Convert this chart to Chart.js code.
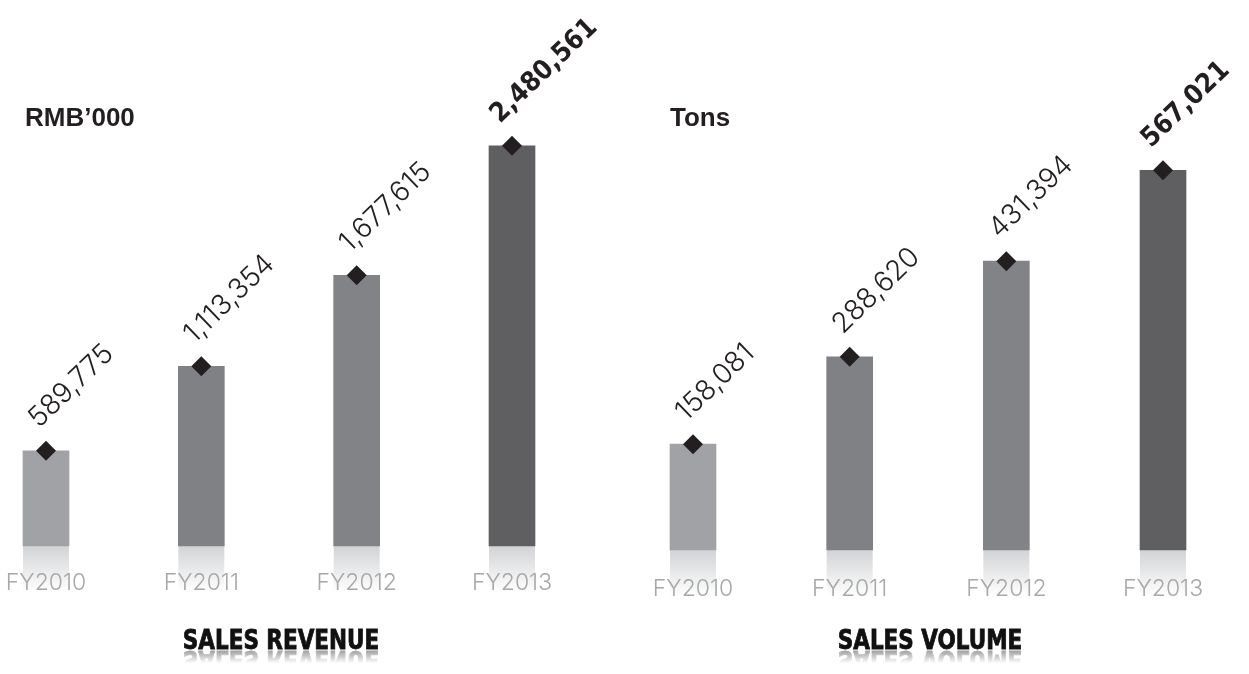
<!DOCTYPE html>
<html>
<head>
<meta charset="utf-8">
<script src="https://cdn.jsdelivr.net/npm/chart.js@4.4.0/dist/chart.umd.min.js"></script>
<style>
  html, body { margin: 0; padding: 0; background: #fff; }
  body { width: 1249px; height: 674px; position: relative; overflow: hidden; }
  canvas { position: absolute; top: 0; }
  .unit {
    position: absolute; top: 104px;
    font-family: 'Liberation Sans', Arial, sans-serif; font-weight: bold;
    font-size: 26px; line-height: 26px; color: #231f20;
  }
  .title {
    position: absolute; top: 629px;
    font-family: 'Liberation Sans Narrow', 'DejaVu Sans Condensed', sans-serif; font-weight: bold;
    font-size: 26px; line-height: 22px; color: #111;
    -webkit-text-stroke: 0.8px #111;
    transform: translateX(-50%) scaleX(0.92);
    -webkit-box-reflect: below -2px linear-gradient(transparent 35%, rgba(0,0,0,0.45));
    white-space: nowrap;
  }
</style>
</head>
<body>
<canvas id="revenueChart" width="624" height="674" style="left:0"></canvas>
<canvas id="volumeChart" width="625" height="674" style="left:624px"></canvas>
<div class="unit" style="left:25px">RMB’000</div>
<div class="unit" style="left:670px">Tons</div>
<div class="title" style="left:281px">SALES REVENUE</div>
<div class="title" style="left:930px">SALES VOLUME</div>
<script>
var years = ['FY2010', 'FY2011', 'FY2012', 'FY2013'];
var revenue = [589775, 1113354, 1677615, 2480561];
var volume = [158081, 288620, 431394, 567021];

var barColors = ['#a1a2a5', '#808184', '#828386', '#5f5f61'];

// grey fading reflection under each bar, drawn before the axis labels
var reflectionPlugin = {
    id: 'reflection',
    beforeDraw: function (chart) {
        var ctx = chart.ctx;
        var meta = chart.getDatasetMeta(0);
        var base = chart.chartArea.bottom;
        meta.data.forEach(function (bar) {
            var g = ctx.createLinearGradient(0, base, 0, base + 46);
            g.addColorStop(0, '#d2d3d5');
            g.addColorStop(1, 'rgba(255,255,255,1)');
            ctx.fillStyle = g;
            ctx.fillRect(bar.x - bar.width / 2, base, bar.width, 46);
        });
    }
};

// rotated value labels above the diamonds
var valueLabelPlugin = {
    id: 'valueLabels',
    afterDatasetsDraw: function (chart) {
        var ctx = chart.ctx;
        var values = chart.data.datasets[1].data;
        var meta = chart.getDatasetMeta(1);
        meta.data.forEach(function (pt, i) {
            var last = i === values.length - 1;
            ctx.save();
            if (last) {
                ctx.translate(pt.x - 12, pt.y - 22);
            } else {
                ctx.translate(pt.x - 7, pt.y - 22);
            }
            ctx.rotate(-44 * Math.PI / 180);
            ctx.fillStyle = '#231f20';
            ctx.textAlign = 'left';
            ctx.textBaseline = 'alphabetic';
            ctx.font = last ? 'bold 27px "Liberation Sans Narrow", "DejaVu Sans Condensed", sans-serif'
                            : '300 28px Inter, sans-serif';
            ctx.fillText(values[i].toLocaleString('en-US'), 0, 0);
            ctx.restore();
        });
    }
};

function makeChart(id, values, yMax, padLeft, padRight, padBottom, tickPad) {
    var ctx = document.getElementById(id).getContext('2d');
    return new Chart(ctx, {
        type: 'bar',
        data: {
            labels: years,
            datasets: [{
                data: values,
                backgroundColor: barColors,
                barThickness: 46,
                clip: false,
                order: 1
            }, {
                type: 'line',
                data: values,
                showLine: false,
                pointStyle: 'rectRot',
                pointRadius: 10,
                pointBackgroundColor: '#231f20',
                pointBorderWidth: 0,
                clip: false,
                order: 0
            }]
        },
        options: {
            responsive: false,
            animation: false,
            layout: { padding: { left: padLeft, right: padRight, top: 0, bottom: padBottom } },
            plugins: { legend: { display: false }, tooltip: { enabled: false } },
            scales: {
                x: {
                    offset: false,
                    grid: { display: false },
                    border: { display: false },
                    ticks: {
                        color: '#a6a8ab',
                        padding: tickPad,
                        font: { family: 'Inter', size: 23, weight: '300' }
                    },
                    afterFit: function (scale) {
                        scale.height = 60;
                        scale.paddingLeft = 0;
                        scale.paddingRight = 0;
                    }
                },
                y: { display: false, min: 0, max: yMax }
            }
        },
        plugins: [reflectionPlugin, valueLabelPlugin]
    });
}

makeChart('revenueChart', revenue, 3322000, 46, 112, 68, 15);
makeChart('volumeChart', volume, 806500, 69, 86, 64, 17);
</script>
</body>
</html>
